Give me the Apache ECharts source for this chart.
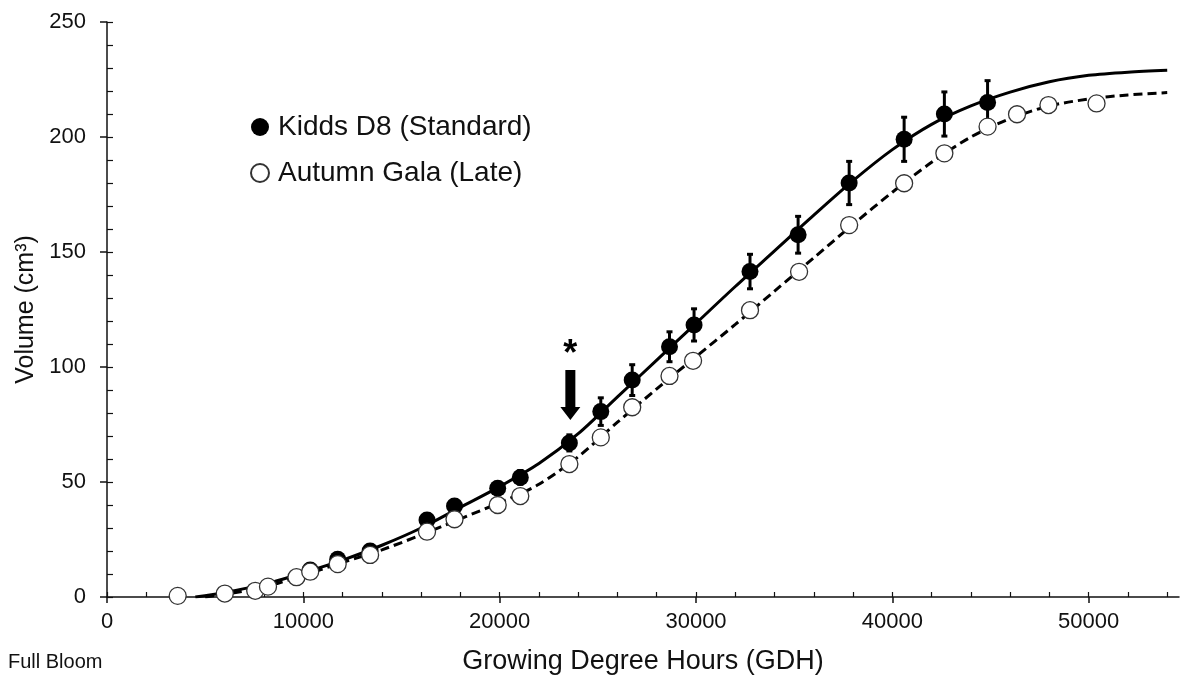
<!DOCTYPE html>
<html>
<head>
<meta charset="utf-8">
<script src="https://cdn.jsdelivr.net/npm/echarts@6/dist/echarts.min.js"></script>
<style>
html,body{margin:0;padding:0;background:#fff;}
#chart{width:1182px;height:680px;}
</style>
</head>
<body>
<div id="chart"></div>
<script>
// ---- data ----
const kiddsName = 'Kidds D8 (Standard)';
const galaName = 'Autumn Gala (Late)';

const kiddsX   = [10350, 11750, 13400, 16300, 17700, 19900, 21050, 23550, 25150, 26750, 28650, 29900, 32750, 35200, 37800, 40600, 42650, 44850];
const kiddsY   = [11.7, 16.4, 20, 33.5, 39.6, 47.3, 52, 67, 80.6, 94.3, 108.8, 118.3, 141.5, 157.5, 180, 199, 210, 215];
const kiddsErr = [1, 1.2, 1.5, 2, 2, 2.5, 3, 3.5, 6, 6.7, 6.5, 7, 7.5, 8, 9.4, 9.6, 9.6, 9.5];

const galaX = [3600, 6000, 7550, 8200, 9650, 10350, 11750, 13400, 16300, 17700, 19900, 21050, 23550, 25150, 26750, 28650, 29850, 32750, 35250, 37800, 40600, 42650, 44850, 46350, 47950, 50400];
const galaY = [0.5, 1.5, 2.7, 4.5, 8.6, 11, 14.3, 18.3, 28.4, 33.8, 40, 43.9, 57.8, 69.4, 82.5, 96.1, 102.7, 124.7, 141.4, 161.7, 179.9, 192.9, 204.5, 209.9, 213.9, 214.6];

// fitted curves
const kiddsCurveX = [4500, 6000, 8000, 10000, 12000, 14000, 16000, 18000, 20000, 22000, 24000, 26000, 28000, 30000, 32000, 34000, 36000, 38000, 40000, 42000, 44000, 46000, 48000, 50000, 52000, 54000];
const kiddsCurveY = [0, 2, 5.5, 10.5, 16, 22.5, 30, 39, 48, 58, 71, 87, 103, 119, 135, 150.5, 166, 181, 194.5, 205.5, 213.5, 219.5, 224, 226.8, 228.2, 229];
const galaCurveX  = [5000, 6000, 8000, 10000, 12000, 14000, 16000, 18000, 20000, 22000, 24000, 26000, 28000, 30000, 32000, 34000, 36000, 38000, 40000, 42000, 44000, 46000, 48000, 50000, 52000, 54000];
const galaCurveY  = [0, 1.2, 4.3, 9.5, 15, 20.5, 27, 34, 41, 49, 61, 76, 90.5, 104.5, 118.5, 133, 147.5, 162, 176, 189, 200, 208, 213.5, 216.5, 218.3, 219.3];

// annotation (arrow + asterisk) positions in data units
const arrowPos = [23600, 87.8];
const starPos  = [23600, 105];

// axis ticks
const xMax = 54600;
const xMajorTicks = [0, 10000, 20000, 30000, 40000, 50000];
const xMinorTicks = [0, 2000, 4000, 6000, 8000, 10000, 12000, 14000, 16000, 18000, 20000, 22000, 24000, 26000, 28000, 30000, 32000, 34000, 36000, 38000, 40000, 42000, 44000, 46000, 48000, 50000, 52000, 54000];
const yMajorTicks = [0, 50, 100, 150, 200, 250];
const yMinorTicks = [0, 10, 20, 30, 40, 50, 60, 70, 80, 90, 100, 110, 120, 130, 140, 150, 160, 170, 180, 190, 200, 210, 220, 230, 240, 250];

// ---- build ----
const zip = (a, b) => a.map((v, i) => [v, b[i]]);
const FONT = 'Liberation Sans, Arial, sans-serif';
const INK = '#111';

const chart = echarts.init(document.getElementById('chart'), null, {renderer: 'canvas'});

const errData = kiddsX.map((x, i) => [x, kiddsY[i] - kiddsErr[i], kiddsY[i] + kiddsErr[i]]);

const option = {
  animation: false,
  backgroundColor: '#fff',
  grid: {left: 107, right: 3, top: 22, bottom: 83, containLabel: false},
  legend: {
    orient: 'vertical',
    left: 245, top: 108,
    itemWidth: 26, itemHeight: 18, itemGap: 18,
    icon: 'circle',
    data: [kiddsName, galaName],
    textStyle: {fontFamily: FONT, fontSize: 28, color: INK},
    selectedMode: false
  },
  xAxis: [
    {
      type: 'value', min: 0, max: xMax,
      name: 'Growing Degree Hours (GDH)', nameLocation: 'middle', nameGap: 51,
      nameTextStyle: {fontFamily: FONT, fontSize: 27, color: INK},
      axisLine: {show: true, lineStyle: {color: INK, width: 1.5}},
      axisTick: {show: true, inside: false, length: 6, customValues: xMajorTicks, lineStyle: {color: INK, width: 1.5}},
      axisLabel: {show: true, customValues: xMajorTicks, margin: 14, fontFamily: FONT, fontSize: 22, color: INK,
                  formatter: v => String(v)},
      splitLine: {show: false}
    },
    {
      type: 'value', min: 0, max: xMax, position: 'bottom',
      axisLine: {show: false},
      axisTick: {show: true, inside: true, length: 5, customValues: xMinorTicks, lineStyle: {color: INK, width: 1.2}},
      axisLabel: {show: false},
      splitLine: {show: false}
    }
  ],
  yAxis: [
    {
      type: 'value', min: 0, max: 250, interval: 50,
      name: 'Volume (cm³)', nameLocation: 'middle', nameGap: 66, nameRotate: 90,
      nameTextStyle: {fontFamily: FONT, fontSize: 25, color: INK},
      axisLine: {show: true, lineStyle: {color: INK, width: 1.5}},
      axisTick: {show: true, inside: false, length: 7, customValues: yMajorTicks, lineStyle: {color: INK, width: 1.5}},
      axisLabel: {show: true, customValues: yMajorTicks, margin: 21, fontFamily: FONT, fontSize: 22, color: INK,
                  formatter: v => String(v)},
      splitLine: {show: false}
    },
    {
      type: 'value', min: 0, max: 250, position: 'left',
      axisLine: {show: false},
      axisTick: {show: true, inside: true, length: 6, customValues: yMinorTicks, lineStyle: {color: INK, width: 1.2}},
      axisLabel: {show: false},
      splitLine: {show: false}
    }
  ],
  graphic: [
    {type: 'text', left: 8, top: 652, style: {text: 'Full Bloom', font: '20px ' + FONT, fill: INK}}
  ],
  series: [
    {
      name: 'kiddsFit', type: 'line', data: zip(kiddsCurveX, kiddsCurveY),
      showSymbol: false, smooth: 0.3, silent: true, z: 1,
      lineStyle: {color: '#000', width: 3}
    },
    {
      name: 'galaFit', type: 'line', data: zip(galaCurveX, galaCurveY),
      showSymbol: false, smooth: 0.3, silent: true, z: 1,
      lineStyle: {color: '#000', width: 3, type: [9, 5]}
    },
    {
      name: 'kiddsErr', type: 'custom', z: 2,
      data: errData,
      renderItem: function (params, api) {
        const x = api.value(0);
        const lo = api.coord([x, api.value(1)]);
        const hi = api.coord([x, api.value(2)]);
        const cap = 3;
        const st = {stroke: '#000', lineWidth: 3};
        return {
          type: 'group',
          children: [
            {type: 'line', shape: {x1: lo[0], y1: lo[1], x2: hi[0], y2: hi[1]}, style: st},
            {type: 'line', shape: {x1: lo[0] - cap, y1: lo[1], x2: lo[0] + cap, y2: lo[1]}, style: st},
            {type: 'line', shape: {x1: hi[0] - cap, y1: hi[1], x2: hi[0] + cap, y2: hi[1]}, style: st}
          ]
        };
      }
    },
    {
      name: kiddsName, type: 'scatter', data: zip(kiddsX, kiddsY), z: 3,
      symbol: 'circle', symbolSize: 17,
      itemStyle: {color: '#000', opacity: 1},
      emphasis: {disabled: true},
      markPoint: {
        silent: true,
        data: [
          {coord: arrowPos, symbol: 'path://M5,0 L15,0 L15,37 L20,37 L10,50 L0,37 L5,37 Z', symbolSize: [20, 50], symbolKeepAspect: false, itemStyle: {color: '#000', opacity: 1}, label: {show: false}},
          {coord: starPos, symbol: 'circle', symbolSize: 0, label: {show: true, formatter: '*', position: 'inside', fontFamily: FONT, fontSize: 36, fontWeight: 'bold', color: '#000'}}
        ]
      }
    },
    {
      name: galaName, type: 'scatter', data: zip(galaX, galaY), z: 4,
      symbol: 'circle', symbolSize: 17,
      itemStyle: {color: '#fff', borderColor: '#333', borderWidth: 1.3, opacity: 1},
      emphasis: {disabled: true}
    }
  ]
};
chart.setOption(option);
</script>
</body>
</html>
